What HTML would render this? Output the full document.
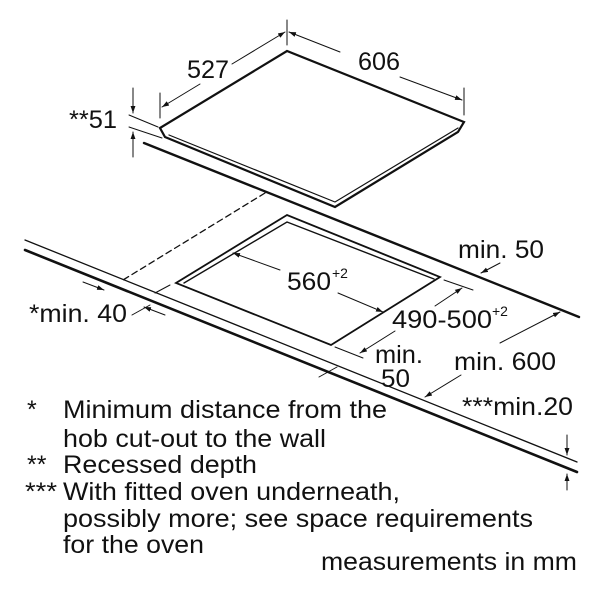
<!DOCTYPE html>
<html><head><meta charset="utf-8"><style>
html,body{margin:0;padding:0;background:#fff}
svg{display:block}
text{font-family:"Liberation Sans",Arial,sans-serif;fill:#111}
</style></head><body>
<svg width="600" height="600" viewBox="0 0 600 600" xmlns="http://www.w3.org/2000/svg">
<defs>
<marker id="a" viewBox="0 0 10 10" refX="10" refY="5" markerWidth="7" markerHeight="7" orient="auto-start-reverse"><path d="M0,1.5 L10,5 L0,8.5 z" fill="#111"/></marker>
</defs>
<g stroke="#111" fill="none" stroke-linecap="round">
<path d="M160,128 L287,51 L464,122 L458,132 L335,207 L165,137 Z" stroke-width="2.2" fill="#fff"/>
<path d="M169,135 L335,202 L458,128" stroke-width="1.2"/>
<line x1="144" y1="143" x2="579" y2="317" stroke-width="2.4"/>
<line x1="265" y1="193" x2="123" y2="280" stroke-width="1.3" stroke-dasharray="6,4"/>
<path d="M287,215 L176,283 L331,345 L440,277 Z" stroke-width="1.8"/>
<path d="M184,283 L287,222 L434,279" stroke-width="1.4"/>
<line x1="25" y1="240" x2="577" y2="462" stroke-width="1.3"/>
<line x1="25" y1="250" x2="577" y2="472" stroke-width="2.6"/>
<line x1="319" y1="377" x2="337" y2="367" stroke-width="1"/>
<line x1="160" y1="93" x2="160" y2="118" stroke-width="1"/>
<line x1="287" y1="20" x2="287" y2="45" stroke-width="1"/>
<line x1="464" y1="88" x2="464" y2="115" stroke-width="1"/>
<line x1="200" y1="84" x2="162" y2="107" stroke-width="1" marker-end="url(#a)"/>
<line x1="232" y1="64" x2="285" y2="32" stroke-width="1" marker-end="url(#a)"/>
<line x1="340" y1="52" x2="289" y2="32" stroke-width="1" marker-end="url(#a)"/>
<line x1="400" y1="77" x2="462" y2="100" stroke-width="1" marker-end="url(#a)"/>
<line x1="133" y1="88" x2="133" y2="113" stroke-width="1" marker-end="url(#a)"/>
<line x1="133" y1="157" x2="133" y2="132" stroke-width="1" marker-end="url(#a)"/>
<line x1="129" y1="115" x2="158" y2="127" stroke-width="1"/>
<line x1="129" y1="127" x2="162" y2="138" stroke-width="1"/>
<line x1="280" y1="270" x2="233" y2="253" stroke-width="1" marker-end="url(#a)"/>
<line x1="338" y1="293" x2="383" y2="312" stroke-width="1" marker-end="url(#a)"/>
<line x1="444" y1="280" x2="473" y2="290" stroke-width="1"/>
<line x1="335" y1="347" x2="363" y2="358" stroke-width="1"/>
<line x1="435" y1="306" x2="462" y2="288" stroke-width="1" marker-end="url(#a)"/>
<line x1="395" y1="331" x2="360" y2="353" stroke-width="1" marker-end="url(#a)"/>
<line x1="500" y1="263" x2="481" y2="273" stroke-width="1" marker-end="url(#a)"/>
<line x1="500" y1="343" x2="560" y2="312" stroke-width="1" marker-end="url(#a)"/>
<line x1="461" y1="375" x2="425" y2="397" stroke-width="1" marker-end="url(#a)"/>
<line x1="83" y1="282" x2="104" y2="290" stroke-width="1" marker-end="url(#a)"/>
<line x1="165" y1="315" x2="144" y2="307" stroke-width="1" marker-end="url(#a)"/>
<line x1="132" y1="315" x2="150" y2="305" stroke-width="1"/>
<line x1="170" y1="285" x2="155" y2="293" stroke-width="1"/>
<line x1="567" y1="435" x2="567" y2="455" stroke-width="1" marker-end="url(#a)"/>
<line x1="567" y1="490" x2="567" y2="474" stroke-width="1" marker-end="url(#a)"/>
</g>
<g font-size="25">
<text x="187" y="78" textLength="42" lengthAdjust="spacingAndGlyphs">527</text>
<text x="358" y="70" textLength="42" lengthAdjust="spacingAndGlyphs">606</text>
<text x="69" y="128" textLength="48" lengthAdjust="spacingAndGlyphs">**51</text>
<text x="287" y="290" textLength="44" lengthAdjust="spacingAndGlyphs">560</text>
<text x="332" y="278" font-size="14">+2</text>
<text x="392" y="328" textLength="100" lengthAdjust="spacingAndGlyphs">490-500</text>
<text x="492" y="316" font-size="14">+2</text>
<text x="458" y="258" textLength="86" lengthAdjust="spacingAndGlyphs">min. 50</text>
<text x="29" y="322" textLength="98" lengthAdjust="spacingAndGlyphs">*min. 40</text>
<text x="375" y="363" textLength="48" lengthAdjust="spacingAndGlyphs">min.</text>
<text x="381" y="387" textLength="29" lengthAdjust="spacingAndGlyphs">50</text>
<text x="454" y="370" textLength="102" lengthAdjust="spacingAndGlyphs">min. 600</text>
<text x="462" y="415" textLength="111" lengthAdjust="spacingAndGlyphs">***min.20</text>
<text x="27" y="418">*</text>
<text x="63" y="418" textLength="324" lengthAdjust="spacingAndGlyphs">Minimum distance from the</text>
<text x="63" y="447" textLength="263" lengthAdjust="spacingAndGlyphs">hob cut-out to the wall</text>
<text x="27" y="473">**</text>
<text x="63" y="473" textLength="194" lengthAdjust="spacingAndGlyphs">Recessed depth</text>
<text x="25" y="500" textLength="32" lengthAdjust="spacingAndGlyphs">***</text>
<text x="63" y="500" textLength="337" lengthAdjust="spacingAndGlyphs">With fitted oven underneath,</text>
<text x="63" y="527" textLength="470" lengthAdjust="spacingAndGlyphs">possibly more; see space requirements</text>
<text x="63" y="553" textLength="141" lengthAdjust="spacingAndGlyphs">for the oven</text>
<text x="321" y="570" textLength="256" lengthAdjust="spacingAndGlyphs">measurements in mm</text>
</g>
</svg>
</body></html>
